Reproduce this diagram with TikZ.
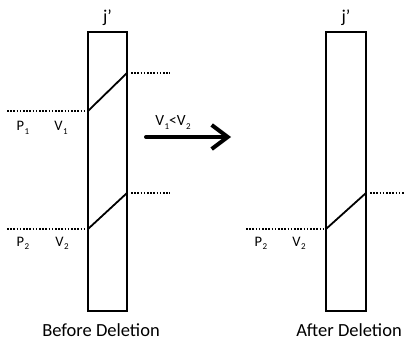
\documentclass[tikz,border=0pt]{standalone}
\usepackage{fontspec}
\setmainfont{Carlito}
\usetikzlibrary{arrows.meta}
\newcommand{\lsub}[1]{\kern0.5pt\raisebox{-0.45ex}{\fontsize{9}{9}\selectfont #1}}
\begin{document}
\begin{tikzpicture}[x=1pt,y=-1pt,
  col/.style={draw=black,line width=1.8pt,minimum width=39pt,minimum height=279pt,inner sep=0pt},
  dots/.style={line width=1.6pt,dash pattern=on 1.6pt off 1.6pt},
  diag/.style={line width=1.8pt},
  lbl/.style={font=\fontsize{14.5}{16}\selectfont,inner sep=0pt,anchor=base},
  albl/.style={font=\fontsize{15.5}{18}\selectfont,inner sep=0pt,anchor=base},
  ttl/.style={font=\fontsize{18.5}{20}\selectfont,inner sep=0pt,anchor=base},
  jl/.style={font=\fontsize{18}{20}\selectfont,inner sep=0pt,anchor=base},
  bigarrow/.style={line width=4pt,line cap=round,-{Straight Barb[length=16pt,width=24pt,line width=4pt]}}]
\useasboundingbox (0,0) rectangle (405,345);
% left column
\node[col] (L) at (107.5,171.5) {};
\node[jl] (Lj) at (107.5,23) {j’};
\coordinate (La1) at (88,111);
\coordinate (Lb1) at (127,73);
\coordinate (La2) at (88,229);
\coordinate (Lb2) at (127,193);
\coordinate (Ld1) at (7,111);
\coordinate (Le1) at (131,73);
\coordinate (Lf1) at (170,73);
\coordinate (Ld2) at (7,229);
\coordinate (Le2) at (131,193);
\coordinate (Lf2) at (170,193);
\draw[diag] (La1) -- (Lb1);
\draw[diag] (La2) -- (Lb2);
\draw[dots] (Ld1) -- (La1);
\draw[dots] (Le1) -- (Lf1);
\draw[dots] (Ld2) -- (La2);
\draw[dots] (Le2) -- (Lf2);
\node[lbl] (P1) at (23,131) {P\lsub{1}};
\node[lbl] (V1) at (61,131) {V\lsub{1}};
\node[lbl] (P2) at (23,246) {P\lsub{2}};
\node[lbl] (V2) at (62,246) {V\lsub{2}};
\node[ttl] (Lt) at (101,336) {Before Deletion};
% arrow
\coordinate (As) at (146,137);
\coordinate (Ae) at (231,137);
\draw[bigarrow] (As) -- (Ae);
\node[albl] (Al) at (173,126) {V\lsub{1}<V\lsub{2}};
% right column
\node[col,minimum width=40pt] (R) at (346,171.5) {};
\node[jl] (Rj) at (346,23) {j’};
\coordinate (Ra2) at (326,229);
\coordinate (Rb2) at (366,193);
\coordinate (Rd2) at (246,229);
\coordinate (Re2) at (370,193);
\coordinate (Rf2) at (405,193);
\draw[diag] (Ra2) -- (Rb2);
\draw[dots] (Rd2) -- (Ra2);
\draw[dots] (Re2) -- (Rf2);
\node[lbl] (RP2) at (261,246) {P\lsub{2}};
\node[lbl] (RV2) at (299,246) {V\lsub{2}};
\node[ttl] (Rt) at (349,336) {After Deletion};
\end{tikzpicture}
\end{document}
